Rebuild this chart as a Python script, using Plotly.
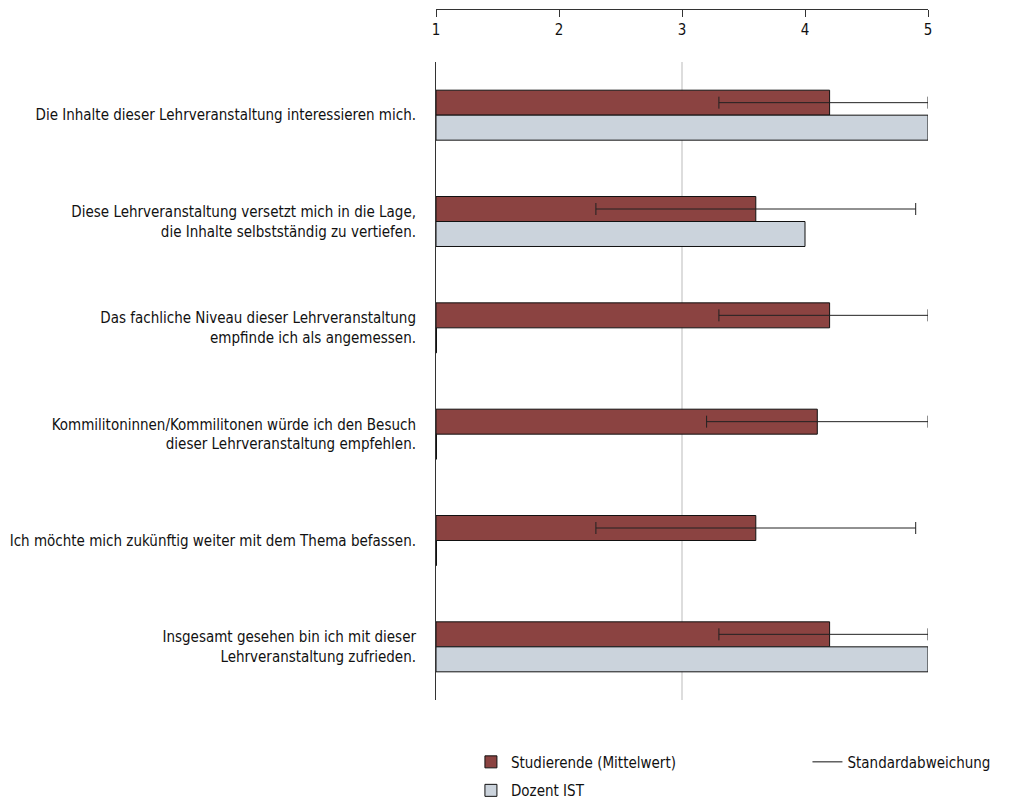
import plotly.graph_objects as go

categories = [
    "Die Inhalte dieser Lehrveranstaltung interessieren mich.",
    "Diese Lehrveranstaltung versetzt mich in die Lage,<br>die Inhalte selbstständig zu vertiefen.",
    "Das fachliche Niveau dieser Lehrveranstaltung<br>empfinde ich als angemessen.",
    "Kommilitoninnen/Kommilitonen würde ich den Besuch<br>dieser Lehrveranstaltung empfehlen.",
    "Ich möchte mich zukünftig weiter mit dem Thema befassen.",
    "Insgesamt gesehen bin ich mit dieser<br>Lehrveranstaltung zufrieden.",
]
studierende_mean = [4.2, 3.6, 4.2, 4.1, 3.6, 4.2]
studierende_sd = [0.9, 1.3, 0.9, 0.9, 1.3, 0.9]
dozent_ist = [5.0, 4.0, None, None, None, 5.0]
tick_vals = [1, 2, 3, 4, 5]

SCALE_MIN, SCALE_MAX = 1, 5
FONT = "DejaVu Sans Condensed, Liberation Sans Narrow, sans-serif"

err_plus = [min(sd, SCALE_MAX - m) for m, sd in zip(studierende_mean, studierende_sd)]
err_minus = [min(sd, m - SCALE_MIN) for m, sd in zip(studierende_mean, studierende_sd)]

fig = go.Figure()
fig.add_trace(go.Bar(
    y=categories, x=[m - SCALE_MIN for m in studierende_mean], base=SCALE_MIN,
    orientation="h", name="Studierende (Mittelwert)",
    marker=dict(color="#8B4341", line=dict(color="#111111", width=1)),
    error_x=dict(type="data", array=err_plus, arrayminus=err_minus,
                 color="#222222", thickness=1, width=6),
    legend="legend", legendgroup="a",
))
fig.add_trace(go.Bar(
    y=categories,
    x=[(v - SCALE_MIN) if v is not None else 0.004 for v in dozent_ist], base=SCALE_MIN,
    orientation="h", name="Dozent IST",
    marker=dict(color="#CBD3DC", line=dict(color="#111111", width=1)),
    legend="legend", legendgroup="b",
))
fig.add_trace(go.Scatter(
    x=[None], y=[None], mode="lines", name="Standardabweichung",
    line=dict(color="#111111", width=1), legend="legend2",
))

fig.add_shape(type="line", xref="x", yref="y domain", x0=3, x1=3, y0=0, y1=1,
              line=dict(color="#BBBBBB", width=1), layer="below")

# page has an 8px body margin; figure is sized to fit the 1017x800 window
fig.update_layout(
    width=1009, height=792,
    margin=dict(l=428, r=89, t=1, b=100, autoexpand=False),
    plot_bgcolor="white", paper_bgcolor="white",
    font=dict(family=FONT, size=15, color="#111111"),
    barmode="group", bargap=0.53, bargroupgap=0,
    showlegend=True,
    legend=dict(x=0.071, y=-0.066, xanchor="left", yanchor="top",
                orientation="v", tracegroupgap=6, font=dict(size=15),
                bgcolor="rgba(0,0,0,0)"),
    legend2=dict(x=0.755, y=-0.066, xanchor="left", yanchor="top",
                 font=dict(size=15), bgcolor="rgba(0,0,0,0)"),
)
fig.update_xaxes(
    range=[SCALE_MIN, SCALE_MAX], tickvals=tick_vals, side="bottom",
    anchor="free", position=1, automargin=False,
    ticks="outside", ticklen=7, tickcolor="#333333",
    showline=True, linecolor="#333333", linewidth=1,
    showgrid=False, zeroline=False, tickfont=dict(size=15),
)
fig.update_yaxes(
    domain=[0, 638 / 691], autorange="reversed", showline=True, automargin=False,
    linecolor="#333333", linewidth=1, showgrid=False, ticks="",
    ticklabelstandoff=16, tickfont=dict(size=15),
)

fig.write_html("out.html")
